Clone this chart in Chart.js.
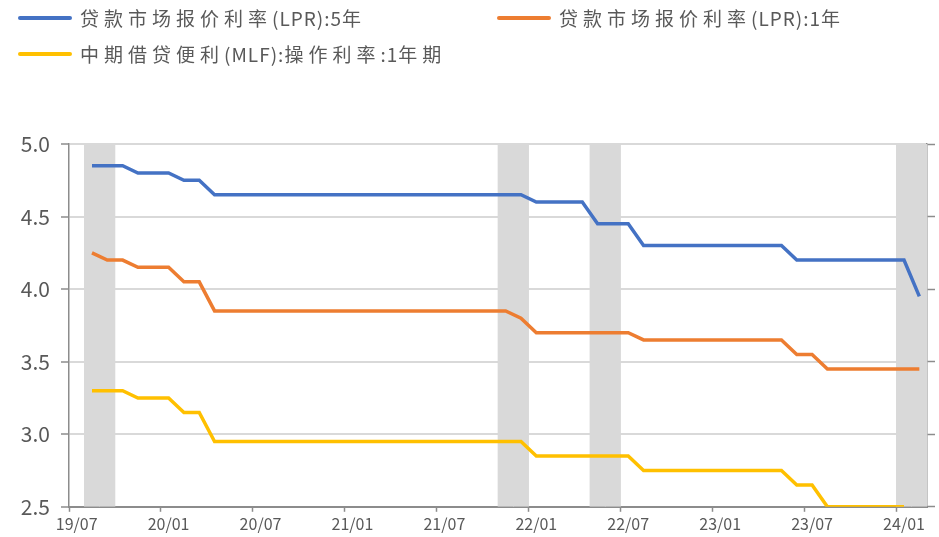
<!DOCTYPE html>
<html>
<head>
<meta charset="utf-8">
<script src="https://cdn.jsdelivr.net/npm/chart.js@4/dist/chart.umd.min.js"></script>
<style>
  body{margin:0;background:#fff;}
  #wrap{position:relative;width:939px;height:537px;}
  canvas{position:absolute;left:0;top:0;}
  .lg{position:absolute;display:flex;align-items:center;font-family:'Noto Sans CJK SC',sans-serif;font-size:19px;color:#595959;letter-spacing:5px;white-space:nowrap;}
  .lg i{display:inline-block;width:54px;height:4px;margin-right:8px;border-radius:2px;}
  .lg b{font-weight:normal;letter-spacing:1px;}
</style>
</head>
<body>
<div id="wrap">
  <canvas id="c" width="939" height="537"></canvas>
  <div id="legend"></div>
</div>
<script>
/* ============ data ============ */
const months = [
  '19/07','19/08','19/09','19/10','19/11','19/12',
  '20/01','20/02','20/03','20/04','20/05','20/06','20/07','20/08','20/09','20/10','20/11','20/12',
  '21/01','21/02','21/03','21/04','21/05','21/06','21/07','21/08','21/09','21/10','21/11','21/12',
  '22/01','22/02','22/03','22/04','22/05','22/06','22/07','22/08','22/09','22/10','22/11','22/12',
  '23/01','23/02','23/03','23/04','23/05','23/06','23/07','23/08','23/09','23/10','23/11','23/12',
  '24/01','24/02'];

const lpr5y = [
  null,4.85,4.85,4.85,4.80,4.80,
  4.80,4.75,4.75,4.65,4.65,4.65,4.65,4.65,4.65,4.65,4.65,4.65,
  4.65,4.65,4.65,4.65,4.65,4.65,4.65,4.65,4.65,4.65,4.65,4.65,
  4.60,4.60,4.60,4.60,4.45,4.45,4.45,4.30,4.30,4.30,4.30,4.30,
  4.30,4.30,4.30,4.30,4.30,4.20,4.20,4.20,4.20,4.20,4.20,4.20,
  4.20,3.95];

const lpr1y = [
  null,4.25,4.20,4.20,4.15,4.15,
  4.15,4.05,4.05,3.85,3.85,3.85,3.85,3.85,3.85,3.85,3.85,3.85,
  3.85,3.85,3.85,3.85,3.85,3.85,3.85,3.85,3.85,3.85,3.85,3.80,
  3.70,3.70,3.70,3.70,3.70,3.70,3.70,3.65,3.65,3.65,3.65,3.65,
  3.65,3.65,3.65,3.65,3.65,3.55,3.55,3.45,3.45,3.45,3.45,3.45,
  3.45,3.45];

const mlf1y = [
  null,3.30,3.30,3.30,3.25,3.25,
  3.25,3.15,3.15,2.95,2.95,2.95,2.95,2.95,2.95,2.95,2.95,2.95,
  2.95,2.95,2.95,2.95,2.95,2.95,2.95,2.95,2.95,2.95,2.95,2.95,
  2.85,2.85,2.85,2.85,2.85,2.85,2.85,2.75,2.75,2.75,2.75,2.75,
  2.75,2.75,2.75,2.75,2.75,2.65,2.65,2.50,2.50,2.50,2.50,2.50,
  2.50,null];

// shaded months
const bandMonths = ['19/08','19/09','21/11','21/12','22/05','22/06','24/01','24/02'];
const yTicks = [2.5,3.0,3.5,4.0,4.5,5.0];

const series = [
  {name:'贷款市场报价利率(LPR):5年', data:lpr5y, color:'#4472C4'},
  {name:'贷款市场报价利率(LPR):1年', data:lpr1y, color:'#ED7D31'},
  {name:'中期借贷便利(MLF):操作利率:1年期', data:mlf1y, color:'#FFC000'},
];

/* ============ legend (html) ============ */
const legendPos = [{x:18,y:4},{x:497,y:4},{x:18,y:40}];
// latin runs are set tighter than the CJK characters
const fmtName = n => n.replace(/[\x20-\x7e]+/g, m => `<b>${m}</b>`);
document.getElementById('legend').innerHTML = series.map((s,i)=>
  `<div class="lg" style="left:${legendPos[i].x}px;top:${legendPos[i].y}px"><i style="background:${s.color}"></i>${fmtName(s.name)}</div>`).join('');

/* ============ chart ============ */
const bandData = months.map(m => bandMonths.includes(m) ? 1 : null);
const AXIS = '#8c8c8c';
const tickFont = {family:"'Noto Sans CJK SC','Noto Sans',sans-serif"};

new Chart(document.getElementById('c'), {
  type:'bar',
  data:{labels:months, datasets:[
    ...series.map((s,i)=>({type:'line',label:s.name,data:s.data,borderColor:s.color,backgroundColor:s.color,
      borderWidth:3.5,pointRadius:0,tension:0,spanGaps:false,yAxisID:'y',order:i+1})),
    {type:'bar',label:'band',data:bandData,backgroundColor:'#D9D9D9',barPercentage:1,categoryPercentage:1,yAxisID:'y2',order:10}
  ]},
  options:{responsive:false,animation:false,
    layout:{padding:{top:144,bottom:0,left:0,right:0}},
    plugins:{legend:{display:false},tooltip:{enabled:false}},
    scales:{
      x:{offset:true,
        grid:{offset:true,drawOnChartArea:false,drawTicks:true,tickLength:5,
          tickColor:c=> c.index%6===0 ? AXIS : 'rgba(0,0,0,0)',tickWidth:1.5},
        border:{color:AXIS,width:2},
        ticks:{autoSkip:false,maxRotation:0,padding:3,color:'#595959',font:{...tickFont,size:16},
          callback:(v,i)=> i%6===0 ? months[i] : ''}},
      y:{min:2.5,max:5.0,position:'left',
        afterBuildTicks:s=>{ s.ticks = yTicks.map(v=>({value:v})); },
        afterFit:s=>{ s.width = 69; },
        grid:{color:'#d9d9d9',lineWidth:2,tickLength:8,tickColor:AXIS,tickWidth:1.5},
        border:{color:AXIS,width:1.5},
        ticks:{padding:11,color:'#595959',font:{...tickFont,size:21},callback:v=>v.toFixed(1)}},
      y2:{min:0,max:1,position:'right',
        afterBuildTicks:s=>{ s.ticks = [0,0.2,0.4,0.6,0.8,1].map(v=>({value:v})); },
        afterFit:s=>{ s.width = 12; },
        grid:{drawOnChartArea:false,tickLength:8,tickColor:AXIS,tickWidth:1.5},
        border:{color:AXIS,width:1.5},
        ticks:{display:false}}
    }}
});
</script>
</body>
</html>
